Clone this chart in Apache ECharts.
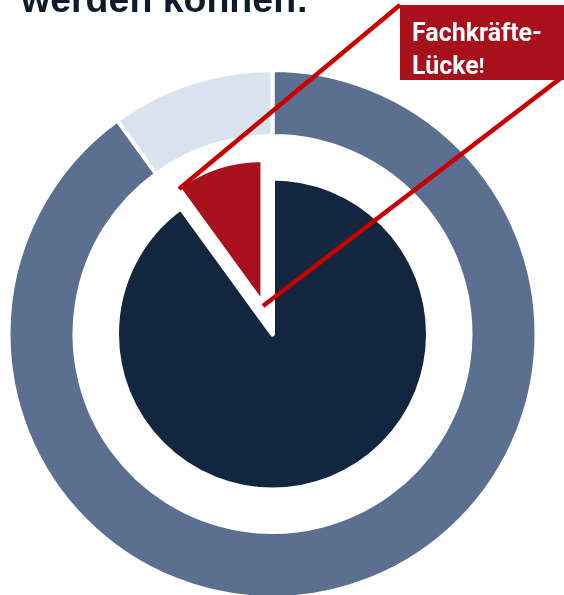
<!DOCTYPE html>
<html>
<head>
<meta charset="utf-8">
<script src="https://cdn.jsdelivr.net/npm/echarts@6/dist/echarts.min.js"></script>
<style>
  html, body { margin: 0; padding: 0; background: #fff; }
  #main { width: 564px; height: 595px; }
</style>
</head>
<body>
<div id="main"></div>
<script>
// Daten
var ringNames = ['Fachkräfte gesamt', 'Zusätzlicher Bedarf'];
var ringValues = [90, 10];
var pieNames = ['Verfügbare Fachkräfte', 'Fachkräfte-Lücke'];
var pieValues = [90, 10];

var ringColors = ['#5b7090', '#d9e3f0'];
var pieColors = ['#13263f', '#a8101b'];
var center = [272.5, 334];

var chart = echarts.init(document.getElementById('main'));

function ringData() {
    return ringNames.map(function (n, i) {
        return { name: n, value: ringValues[i], itemStyle: { color: ringColors[i] } };
    });
}
// innerer Kreis: zwei Serien, damit das rote Stück kleiner und herausgerückt ist
function pieData(show) {
    return pieNames.map(function (n, i) {
        if (i === show) {
            return { name: n, value: pieValues[i], selected: show === 1, itemStyle: { color: pieColors[i] } };
        }
        return { name: n, value: pieValues[i], itemStyle: { color: 'transparent', borderWidth: 0 } };
    });
}

var option = {
    animation: false,
    title: {
        text: 'werden können:',
        left: 16,
        top: -22,
        textStyle: { fontFamily: 'Liberation Sans', fontSize: 37.5, fontWeight: 'bold', color: '#0f1b2d' }
    },
    series: [
        {
            type: 'pie',
            center: center,
            radius: [198, 264],
            startAngle: 90,
            silent: true,
            label: { show: false },
            itemStyle: { borderColor: '#fff', borderWidth: 4 },
            data: ringData()
        },
        {
            type: 'pie',
            center: center,
            radius: [0, 156],
            startAngle: 90,
            silent: true,
            label: { show: false },
            itemStyle: { borderColor: '#fff', borderWidth: 5 },
            data: pieData(0)
        },
        {
            type: 'pie',
            center: center,
            radius: [0, 145],
            startAngle: 90,
            silent: true,
            selectedMode: 'single',
            selectedOffset: 31,
            label: { show: false },
            itemStyle: { borderColor: '#fff', borderWidth: 5 },
            data: pieData(1)
        }
    ],
    graphic: [
        {
            type: 'polyline',
            z: 10,
            shape: { points: [[400, 5], [179, 189]] },
            style: { stroke: '#c80000', lineWidth: 4.5, fill: null }
        },
        {
            type: 'polyline',
            z: 10,
            shape: { points: [[263, 306], [600, 48]] },
            style: { stroke: '#c80000', lineWidth: 4.5, fill: null }
        },
        {
            type: 'rect',
            z: 11,
            shape: { x: 400, y: 5, width: 170, height: 75 },
            style: { fill: '#a8101b' }
        },
        {
            type: 'text',
            z: 12,
            x: 412,
            y: 18,
            style: {
                text: '{a|Fachkräfte-}\n{a|Lücke}{b|!}',
                rich: {
                    a: { fontFamily: 'Roboto', fontSize: 25, fontWeight: 'bold', fill: '#fff', lineHeight: 33 },
                    b: { fontFamily: 'Roboto', fontSize: 21, fontWeight: 'bold', fill: '#fff', lineHeight: 33 }
                }
            }
        }
    ]
};

chart.setOption(option);
</script>
</body>
</html>
